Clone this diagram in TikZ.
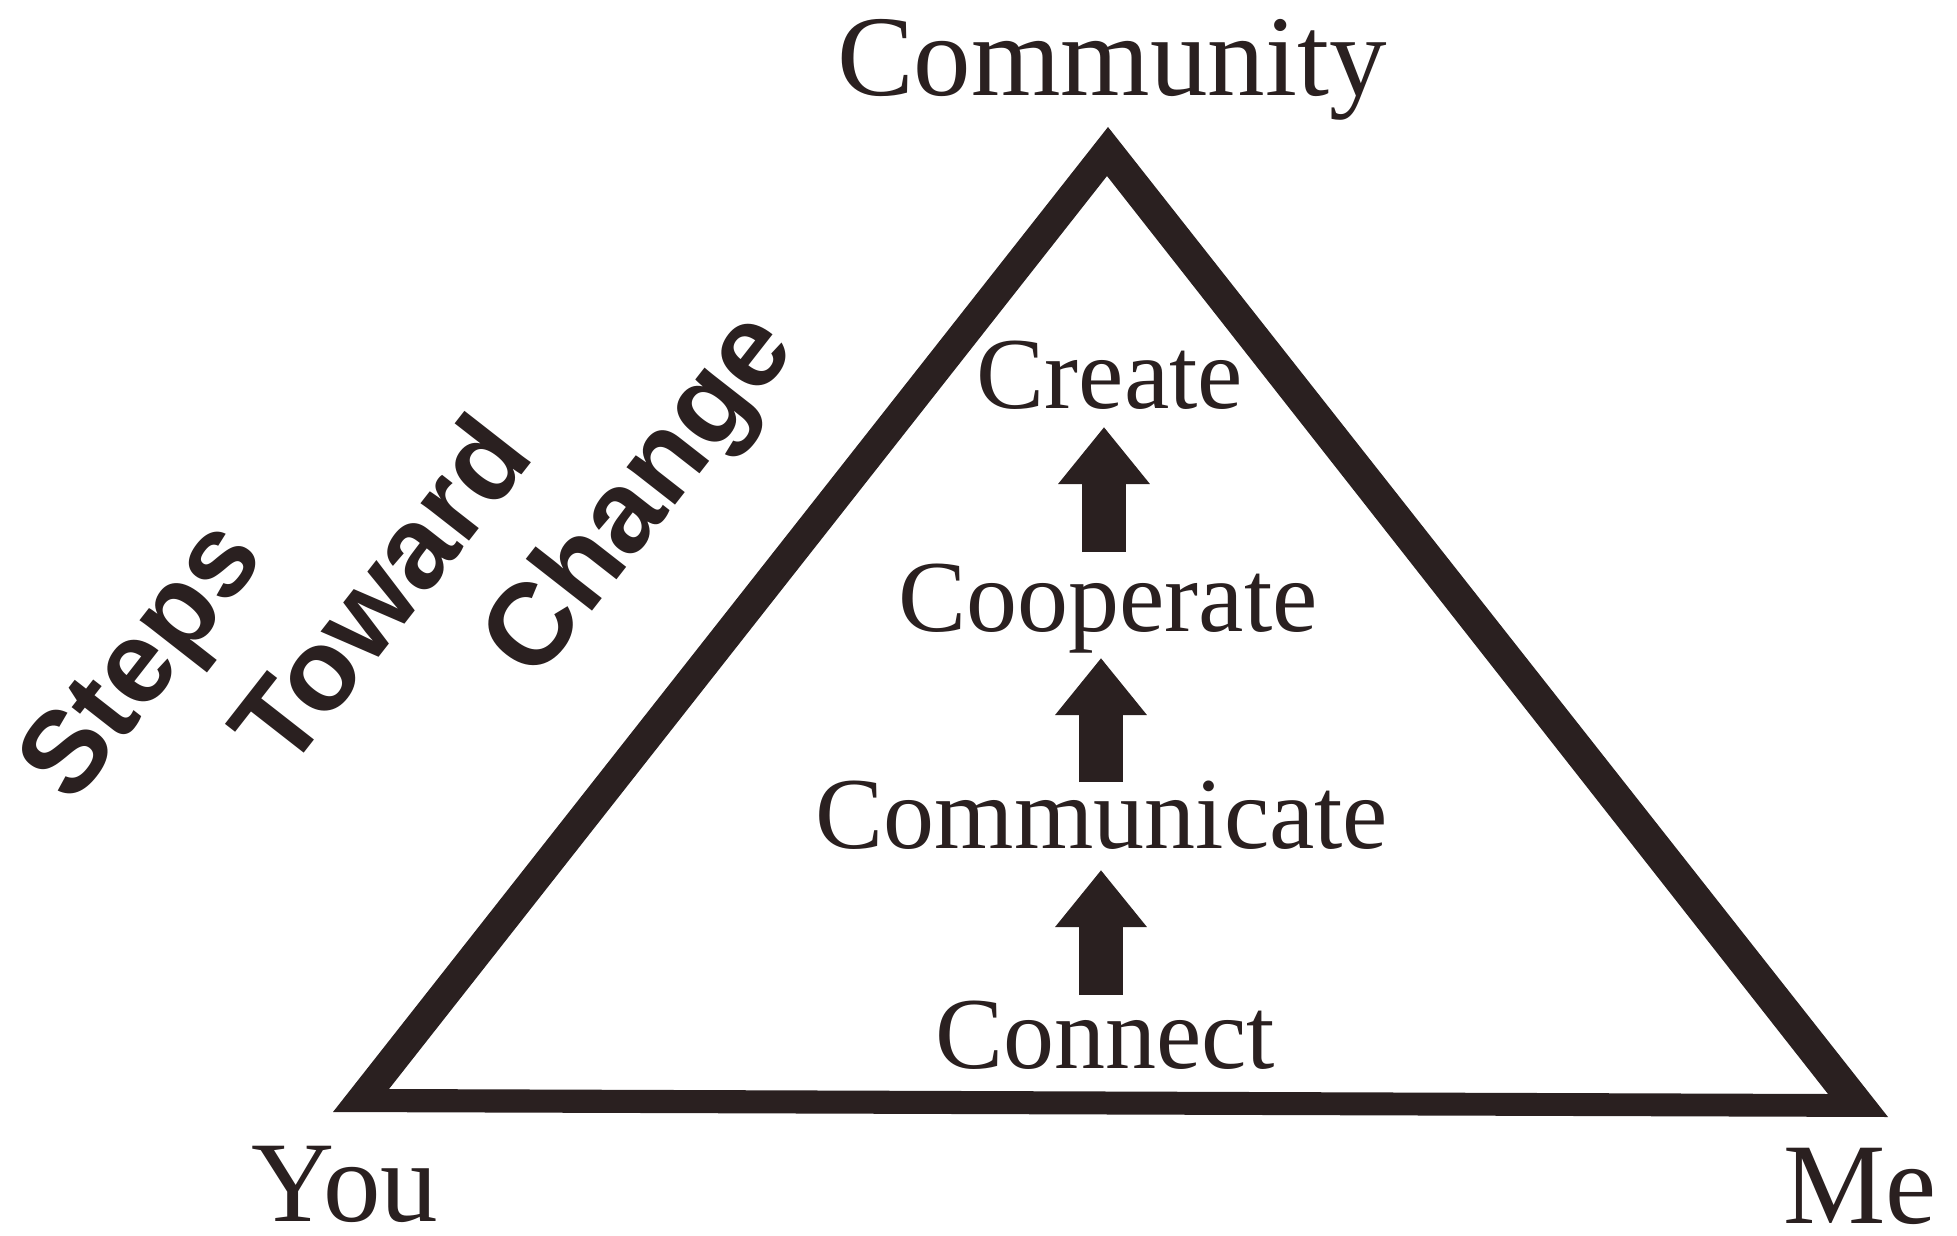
\documentclass[tikz,border=0pt]{standalone}
\usepackage{fontspec}
\setmainfont{Liberation Serif}
\setsansfont{Liberation Sans}
\usetikzlibrary{arrows.meta}
\definecolor{ink}{RGB}{42,32,32}
\begin{document}
\begin{tikzpicture}[x=1pt,y=-1pt,
  lbl/.style={text=ink, inner sep=0pt, anchor=base, font=\fontsize{102}{110}\selectfont},
  corner/.style={text=ink, inner sep=0pt, anchor=base, font=\fontsize{115}{120}\selectfont},
  slant/.style={text=ink, inner sep=0pt, anchor=center, rotate=52, font=\sffamily\bfseries\fontsize{116}{120}\selectfont},
  frame/.style={fill=ink, even odd rule},
  blockarrow/.style={draw=ink, line width=44pt, -{Triangle[width=88pt,length=57pt]}}]
\useasboundingbox[fill=white] (0,0) rectangle (1957,1236);
% outer and inner outline of the thick triangle
\coordinate (to) at (1108,127);
\coordinate (blo) at (333,1112);
\coordinate (bro) at (1888,1117);
\coordinate (ti) at (1107,176);
\coordinate (bli) at (389,1089);
\coordinate (bri) at (1828,1094);
\fill[frame] (to) -- (bro) -- (blo) -- cycle (ti) -- (bri) -- (bli) -- cycle;
\node[lbl, font=\fontsize{115}{120}\selectfont] (community) at (1112,96) {Community};
\node[lbl] (create) at (1110,408) {Create};
\node[lbl] (cooperate) at (1108,631) {Cooperate};
\node[lbl] (communicate) at (1102,848) {Communicate};
\node[lbl] (connect) at (1105,1068) {Connect};
\node[corner] (you) at (345,1221) {You};
\node[corner] (me) at (1860,1223) {Me};
\node[slant] (steps) at (147,665) {Steps};
\node[slant] (toward) at (379,590) {Toward};
\node[slant] (change) at (643,498) {Change};
\coordinate (a1s) at (1101,995);
\coordinate (a1e) at (1101,870);
\coordinate (a2s) at (1101,782);
\coordinate (a2e) at (1101,658);
\coordinate (a3s) at (1104,552);
\coordinate (a3e) at (1104,427);
\draw[blockarrow] (a1s) -- (a1e);
\draw[blockarrow] (a2s) -- (a2e);
\draw[blockarrow] (a3s) -- (a3e);
\end{tikzpicture}
\end{document}
